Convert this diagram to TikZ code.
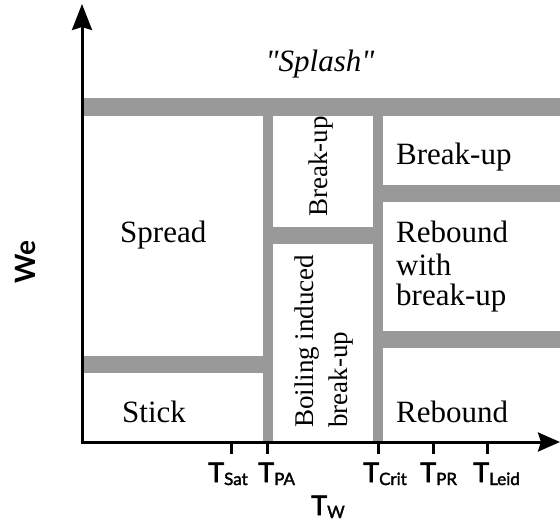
\documentclass[tikz,border=0pt]{standalone}
\usepackage{fontspec}
\setmainfont{Liberation Serif}
\setsansfont{Lato}
\newfontfamily\ticksf{Lato}[FakeBold=2]
\usetikzlibrary{arrows.meta}
\definecolor{bargray}{RGB}{153,153,153}
\newcommand\mysubs[1]{\raisebox{-3pt}{\fontsize{17}{17}\selectfont #1}}
\newcommand\sq{\XeTeXglyph\XeTeXglyphindex "quotedbl"\relax}
\begin{document}
\begin{tikzpicture}[x=1pt,y=-1pt,
  bar/.style={fill=bargray,draw=none},
  axis/.style={line width=3pt},
  tick/.style={line width=3pt},
  lab/.style={inner sep=0pt,anchor=base west,font=\fontsize{31}{31}\selectfont},
  rlab/.style={inner sep=0pt,anchor=base west,rotate=90,font=\fontsize{27}{27}\selectfont},
  tlab/.style={inner sep=0pt,anchor=base west,font=\ticksf\fontsize{27}{27}\selectfont}]
\useasboundingbox (0,0) rectangle (560,524);
% gray bars
\fill[bar] (84,98) rectangle (560,116);
\fill[bar] (263,116) rectangle (273,441);
\fill[bar] (373,116) rectangle (383,441);
\fill[bar] (273,227) rectangle (373,244);
\fill[bar] (383,185) rectangle (560,202);
\fill[bar] (383,331) rectangle (560,348);
\fill[bar] (84,356) rectangle (263,373);
% axes
\coordinate (origin) at (82,442);
\coordinate (ytop) at (82,4);
\coordinate (xend) at (560,442);
\draw[axis,-{Stealth[length=26pt,width=20pt,inset=3pt]}] ([yshift=1.5pt]origin) -- (ytop);
\draw[axis,-{Stealth[length=22pt,width=19pt,inset=3pt]}] ([xshift=-1.5pt]origin) -- (xend);
% ticks
\foreach \n/\x in {sat/231,pa/267,crit/378,pr/433,leid/487}{
  \coordinate (t\n a) at (\x,442);
  \coordinate (t\n b) at (\x,454);
  \draw[tick] (t\n a) -- (t\n b);
}
% tick labels
\node[tlab] (lsat) at (208,482) {T\mysubs{Sat}};
\node[tlab] (lpa) at (258,482) {T\mysubs{PA}};
\node[tlab] (lcrit) at (363,482) {T\mysubs{Crit}};
\node[tlab] (lpr) at (420,482) {T\mysubs{PR}};
\node[tlab] (lleid) at (473,482) {T\mysubs{Leid}};
\node[tlab] (ltw) at (311,515) {T\mysubs{W}};
\node[inner sep=0pt,rotate=90,font=\sffamily\bfseries\fontsize{28}{28}\selectfont] (lwe) at (25,262) {We};
% region labels
\node[lab,anchor=base,font=\itshape\fontsize{31}{31}\selectfont] (splash) at (320,72) {\sq Splash\sq};
\node[lab] (spread) at (120,242) {Spread};
\node[lab] (stick) at (122,422) {Stick};
\node[lab] (bu1) at (396,165) {Break-up};
\node[lab] (rwb1) at (396,243) {Rebound};
\node[lab] (rwb2) at (396,275) {with};
\node[lab] (rwb3) at (396,305) {break-up};
\node[lab] (reb) at (396,422) {Rebound};
\node[rlab] (bu2) at (327,217) {Break-up};
\node[rlab] (boil1) at (313,428) {Boiling induced};
\node[rlab] (boil2) at (347,428) {break-up};
\end{tikzpicture}
\end{document}
